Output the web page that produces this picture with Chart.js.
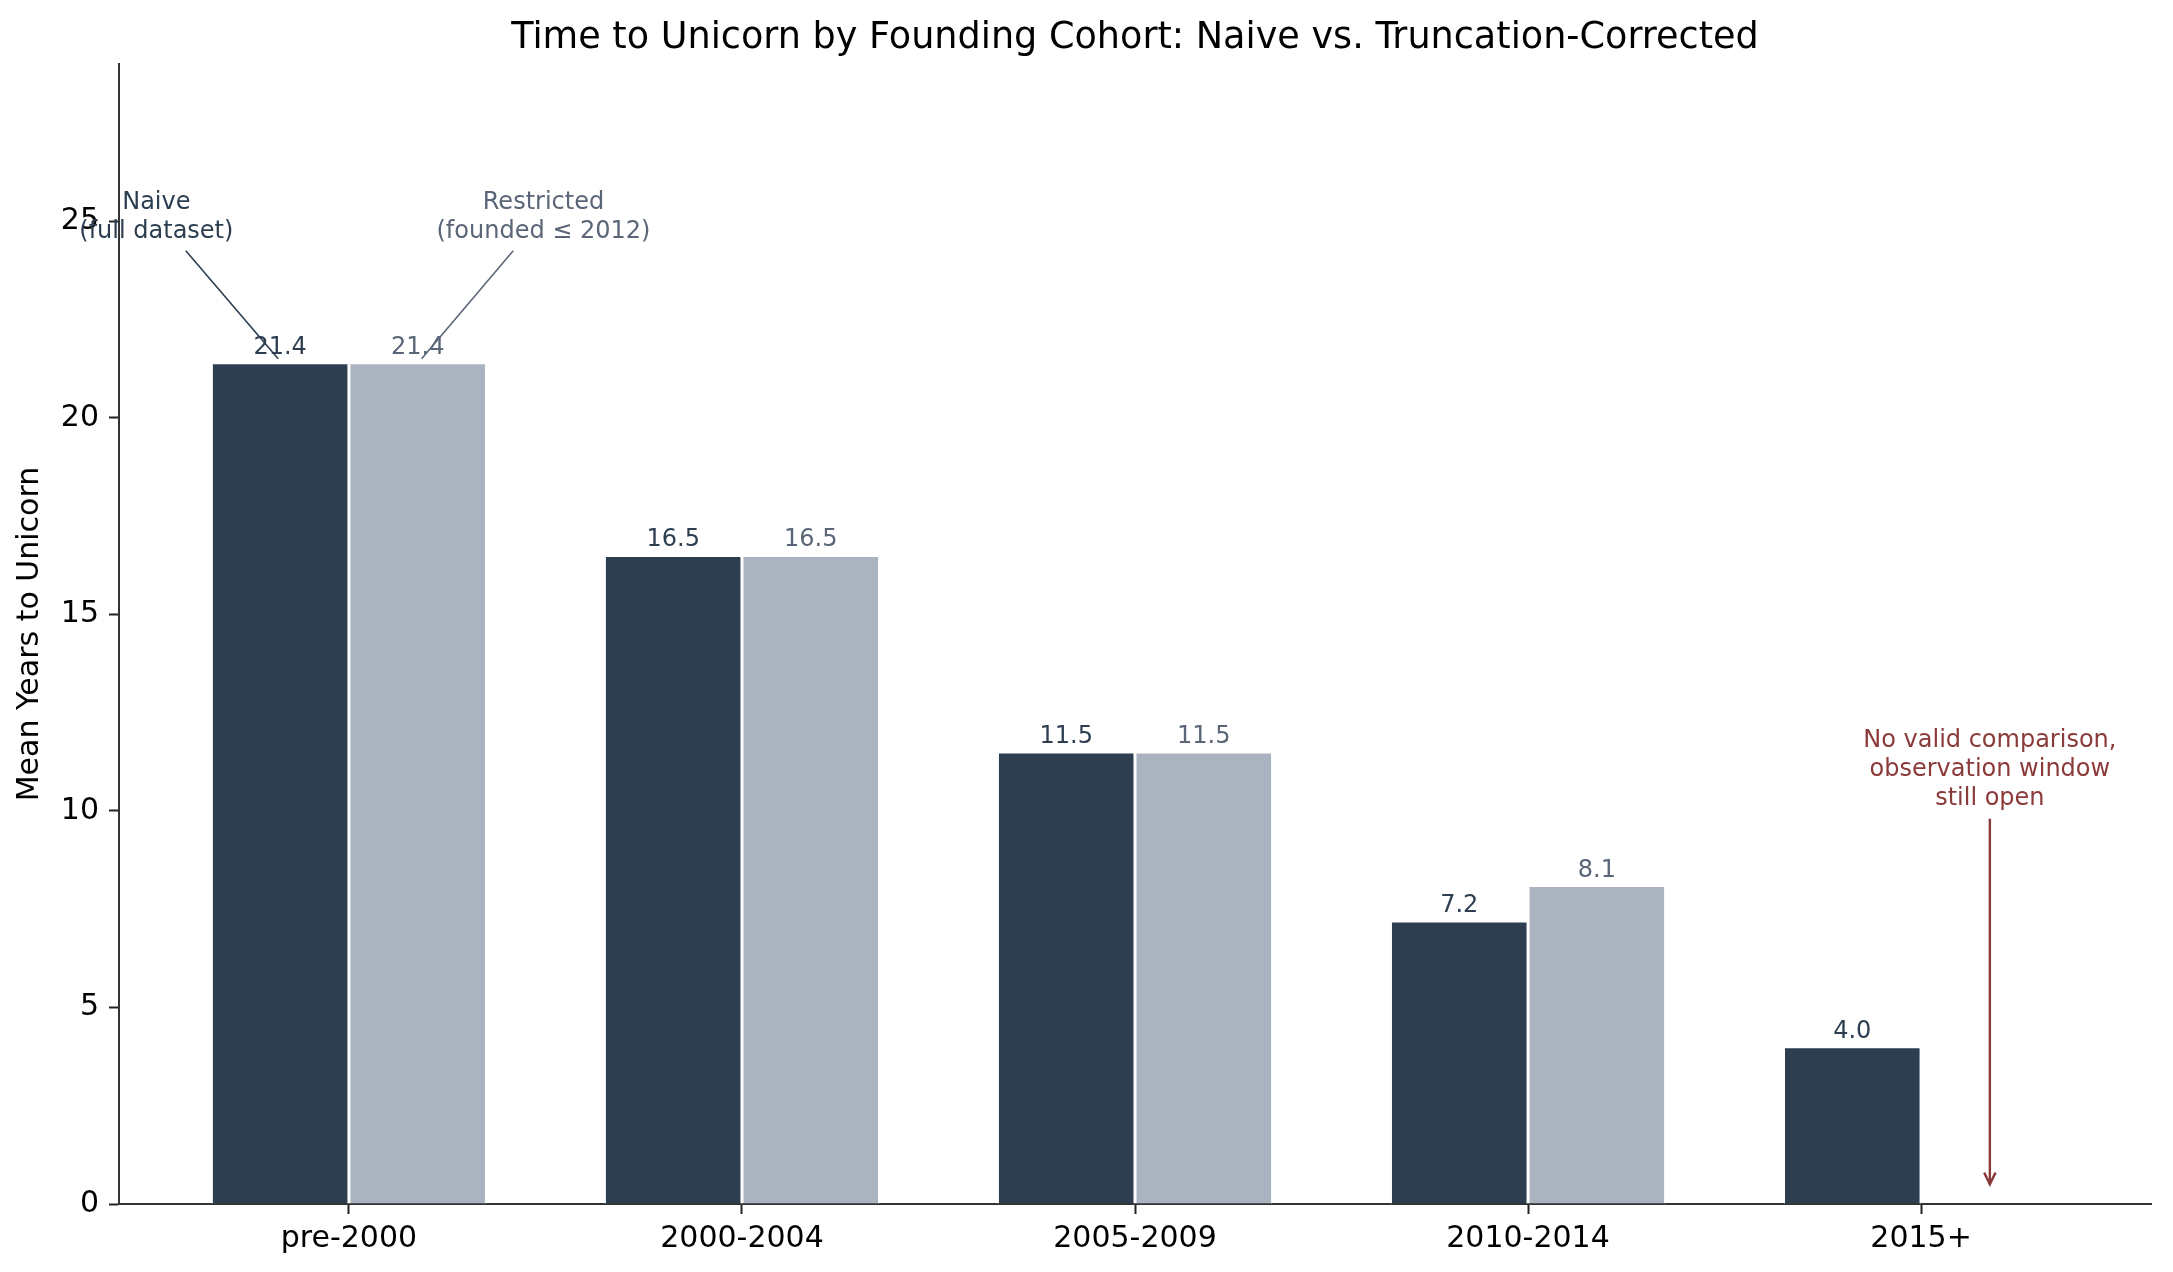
<!DOCTYPE html>
<html lang="en">
<head>
<meta charset="utf-8">
<title>Time to Unicorn by Founding Cohort</title>
<script src="https://cdn.jsdelivr.net/npm/chart.js@4.4.1/dist/chart.umd.min.js"></script>
<style>
  body { margin: 0; background: #fff; }
  #chart { display: block; }
</style>
</head>
<body>
<canvas id="chart" width="2173" height="1272"></canvas>
<script>
// data
const cohorts = ['pre-2000', '2000-2004', '2005-2009', '2010-2014', '2015+'];
const naive = [21.4, 16.5, 11.5, 7.2, 4.0];
const restricted = [21.4, 16.5, 11.5, 8.1, null];   // 2015+ has no valid comparison
const yTicks = [0, 5, 10, 15, 20, 25];

const DARK = '#2c3e50';
const LIGHT = '#aab4c0';
const LIGHT_TXT = '#5a6677';
const RED = '#8b3a3a';

Chart.defaults.font.family = 'DejaVu Sans';
Chart.defaults.color = '#000';

// title + bar labels + annotations, all placed through the scales
const decor = {
  id: 'decor',
  afterDatasetsDraw(chart) {
    const ctx = chart.ctx;
    const xs = chart.scales.x, ys = chart.scales.y;
    const area = chart.chartArea;
    ctx.save();

    // title
    ctx.fillStyle = '#000';
    ctx.font = '36.6px "DejaVu Sans"';
    ctx.textAlign = 'center';
    ctx.textBaseline = 'middle';
    ctx.fillText('Time to Unicorn by Founding Cohort: Naive vs. Truncation-Corrected', (area.left + area.right) / 2, 38);

    // value labels
    ctx.font = '24px "DejaVu Sans"';
    ctx.textBaseline = 'alphabetic';
    chart.data.datasets.forEach((ds, di) => {
      const meta = chart.getDatasetMeta(di);
      ctx.fillStyle = di === 0 ? DARK : LIGHT_TXT;
      meta.data.forEach((bar, i) => {
        const v = ds.data[i].y;
        if (v === null) return;
        ctx.fillText(v.toFixed(1), bar.x, ys.getPixelForValue(v) - 9);
      });
    });

    function lines(txt, x, y, color) {
      ctx.fillStyle = color;
      const arr = txt.split('\n');
      const lh = 28.8;
      const px = xs.getPixelForValue(x), py = ys.getPixelForValue(y);
      arr.forEach((t, k) => {
        ctx.fillText(t, px, py + (k - (arr.length - 1) / 2) * lh);
      });
    }
    function seg(x1, y1, x2, y2, color, head) {
      const ax = xs.getPixelForValue(x1), ay = ys.getPixelForValue(y1);
      const bx = xs.getPixelForValue(x2), by = ys.getPixelForValue(y2);
      ctx.strokeStyle = color;
      ctx.lineWidth = head ? 2.4 : 1.6;
      ctx.beginPath();
      ctx.moveTo(ax, ay);
      ctx.lineTo(bx, by);
      ctx.stroke();
      if (head) {
        const ang = Math.atan2(by - ay, bx - ax);
        const L = 13, w = 0.45;
        ctx.beginPath();
        ctx.moveTo(bx - L * Math.cos(ang - w), by - L * Math.sin(ang - w));
        ctx.lineTo(bx, by);
        ctx.lineTo(bx - L * Math.cos(ang + w), by - L * Math.sin(ang + w));
        ctx.stroke();
      }
    }

    ctx.textAlign = 'center';
    ctx.textBaseline = 'middle';
    ctx.font = '24px "DejaVu Sans"';
    lines('Naive\n(full dataset)', -0.49, 25.1, DARK);
    seg(-0.415, 24.25, -0.18, 21.5, DARK, false);
    lines('Restricted\n(founded \u2264 2012)', 0.495, 25.1, LIGHT_TXT);
    seg(0.418, 24.25, 0.185, 21.5, LIGHT_TXT, false);

    lines('No valid comparison,\nobservation window\nstill open', 4.175, 11.05, RED);
    seg(4.175, 9.8, 4.175, 0.5, RED, true);

    ctx.restore();
  }
};

new Chart(document.getElementById('chart'), {
  type: 'bar',
  data: {
    datasets: [
      {
        label: 'Naive (full dataset)',
        data: cohorts.map((c, i) => ({ x: i, y: naive[i] })),
        backgroundColor: DARK,
        borderColor: '#fff',
        borderWidth: 1.5
      },
      {
        label: 'Restricted (founded \u2264 2012)',
        data: cohorts.map((c, i) => ({ x: i, y: restricted[i] })),
        backgroundColor: LIGHT,
        borderColor: '#fff',
        borderWidth: 1.5
      }
    ]
  },
  options: {
    responsive: false,
    animation: false,
    devicePixelRatio: 1,
    categoryPercentage: 0.7,
    barPercentage: 1.0,
    layout: { padding: { left: 0, right: 22, top: 64, bottom: 0 } },
    plugins: {
      legend: { display: false },
      title: { display: false },
      tooltip: { enabled: false }
    },
    scales: {
      x: {
        type: 'linear',
        min: -0.585,
        max: 4.585,
        offset: false,
        afterBuildTicks: s => { s.ticks = cohorts.map((c, i) => ({ value: i })); },
        afterFit: s => { s.height = 68; },
        ticks: {
          callback: v => cohorts[v],
          font: { size: 30 },
          color: '#000',
          padding: 7,
          maxRotation: 0
        },
        grid: { display: true, offset: false, drawOnChartArea: false, drawTicks: true, tickLength: 10, tickWidth: 2, tickColor: '#222' },
        border: { display: true, color: '#333', width: 2 }
      },
      y: {
        min: 0,
        max: 29,
        afterBuildTicks: s => { s.ticks = yTicks.map(v => ({ value: v })); },
        afterFit: s => { s.width = 119; },
        ticks: { font: { size: 30 }, color: '#000', padding: 10 },
        grid: { display: true, drawOnChartArea: false, drawTicks: true, tickLength: 10, tickWidth: 2, tickColor: '#222' },
        border: { display: true, color: '#333', width: 2 },
        title: {
          display: true,
          text: 'Mean Years to Unicorn',
          font: { size: 30 },
          color: '#000',
          padding: { top: 12, bottom: 0 }
        }
      }
    }
  },
  plugins: [decor]
});
</script>
</body>
</html>
